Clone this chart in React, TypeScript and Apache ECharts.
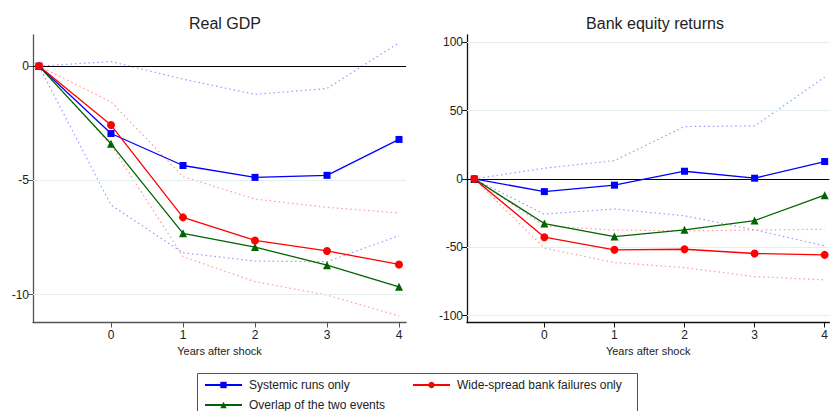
import React, { useEffect, useRef } from "react";
import * as echarts from "echarts";

const years = [-1, 0, 1, 2, 3, 4];
const xTicks = [0, 1, 2, 3, 4];

// Real GDP
const gdpRuns = [0, -2.95, -4.35, -4.87, -4.78, -3.21];
const gdpRunsHi = [0, 0.2, -0.57, -1.24, -0.98, 1.02];
const gdpRunsLo = [0, -6.08, -8.17, -8.53, -8.56, -7.42];
const gdpFail = [0, -2.58, -6.62, -7.63, -8.09, -8.68];
const gdpFailHi = [0, -1.56, -4.84, -5.82, -6.18, -6.43];
const gdpFailLo = [0, -3.45, -8.34, -9.43, -10.02, -10.93];
const gdpBoth = [0, -3.4, -7.32, -7.92, -8.71, -9.66];
const gdpTicks = [-10, -5, 0];

// Bank equity returns
const eqRuns = [0, -9.3, -4.6, 5.6, 0.5, 12.7];
const eqRunsHi = [0, 7.8, 13.4, 38.3, 38.8, 74.4];
const eqRunsLo = [0, -25.8, -22, -27, -37.3, -49];
const eqFail = [0, -42.7, -51.9, -51.5, -54.6, -55.6];
const eqFailHi = [0, -34.4, -37.5, -38, -37.5, -36.8];
const eqFailLo = [0, -50.7, -61.2, -64.9, -71.5, -73.9];
const eqBoth = [0, -32.7, -42.2, -37.3, -30.5, -11.9];
const eqTicks = [-100, -50, 0, 50, 100];

const NAME_RUNS = "Systemic runs only";
const NAME_FAIL = "Wide-spread bank failures only";
const NAME_BOTH = "Overlap of the two events";

const FONT = 'Arial, "Liberation Sans", sans-serif';
const BLUE = "#0000ff";
const RED = "#ff0000";
const GREEN = "#006400";

const pts = (ys: number[]) => years.map((x, i) => [x, ys[i]]);

function mainSeries(name: string, ys: number[], color: string, symbol: string, size: number, idx: number) {
  return {
    type: "line",
    name,
    data: pts(ys),
    xAxisIndex: idx,
    yAxisIndex: idx,
    symbol,
    symbolSize: size,
    showSymbol: true,
    color,
    lineStyle: { color, width: 1.3 },
    itemStyle: { color },
    z: 5,
  };
}

function ciSeries(ys: number[], color: string, idx: number) {
  return {
    type: "line",
    name: "ci",
    data: pts(ys),
    xAxisIndex: idx,
    yAxisIndex: idx,
    symbol: "none",
    lineStyle: { color, width: 1.2, type: [1.5, 3] },
    silent: true,
    z: 3,
  };
}

function refSeries(ticks: number[], idx: number) {
  return {
    type: "line",
    name: "ref",
    data: [],
    xAxisIndex: idx,
    yAxisIndex: idx,
    markLine: {
      silent: true,
      symbol: "none",
      label: { show: false },
      data: ticks.map((t) => ({
        yAxis: t,
        lineStyle: t === 0 ? { color: "#000", width: 1, type: "solid" } : { color: "#e3eef0", width: 1, type: "solid" },
      })),
    },
    z: 1,
  };
}

export default function App() {
  const ref = useRef<HTMLDivElement>(null);
  useEffect(() => {
    if (!ref.current) return;
    const chart = echarts.init(ref.current, undefined, { renderer: "svg" });
    const axisCommonX = (idx: number, min: number, max: number, color: string) => ({
      type: "value",
      gridIndex: idx,
      min,
      max,
      name: "Years after shock",
      nameLocation: "middle",
      nameGap: 17,
      nameTextStyle: { fontFamily: FONT, fontSize: 11, color: "#222" },
      axisLine: { show: true, onZero: false, lineStyle: { color, width: 1.3 } },
      axisTick: { show: true, length: 5, customValues: xTicks, lineStyle: { color } },
      axisLabel: { customValues: xTicks, fontFamily: FONT, fontSize: 12, color: "#222", margin: 6 },
      splitLine: { show: false },
    });
    const axisCommonY = (idx: number, min: number, max: number, ticks: number[], color: string) => ({
      type: "value",
      gridIndex: idx,
      min,
      max,
      axisLine: { show: true, onZero: false, lineStyle: { color, width: 1.3 } },
      axisTick: { show: true, length: 5, customValues: ticks, lineStyle: { color } },
      axisLabel: { customValues: ticks, fontFamily: FONT, fontSize: 12, color: "#222", margin: 4 },
      splitLine: { show: false },
    });
    const legendItem = (name: string, left: number, top: number) => ({
      data: [name],
      left,
      top,
      itemWidth: 37,
      itemHeight: 8,
      itemGap: 0,
      textStyle: { fontFamily: FONT, fontSize: 12, color: "#222", padding: [0, 0, 0, 2] },
      padding: 0,
      selectedMode: false,
    });
    chart.setOption({
      animation: false,
      backgroundColor: "#fff",
      title: [
        { text: "Real GDP", left: 220, top: 10, textAlign: "center", textStyle: { fontFamily: FONT, fontSize: 16, fontWeight: "normal", color: "#222" } },
        { text: "Bank equity returns", left: 650, top: 10, textAlign: "center", textStyle: { fontFamily: FONT, fontSize: 16, fontWeight: "normal", color: "#222" } },
      ],
      grid: [
        { left: 33, right: 425, top: 35, bottom: 88.5 },
        { left: 467, right: 1, top: 35, bottom: 88.5 },
      ],
      xAxis: [axisCommonX(0, -1.083, 4.097, "#555"), axisCommonX(1, -1.104, 4.067, "#111")],
      yAxis: [axisCommonY(0, -11.22, 1.36, gdpTicks, "#555"), axisCommonY(1, -105.1, 105.3, eqTicks, "#111")],
      legend: [
        legendItem(NAME_RUNS, 204, 379),
        legendItem(NAME_FAIL, 412, 379),
        legendItem(NAME_BOTH, 204, 399),
      ],
      graphic: [
        { type: "rect", shape: { x: 197.5, y: 373.5, width: 440, height: 50 }, style: { fill: "none", stroke: "#555", lineWidth: 1 }, silent: true },
      ],
      series: [
        refSeries(gdpTicks, 0),
        ciSeries(gdpRunsHi, "#9999ff", 0),
        ciSeries(gdpRunsLo, "#9999ff", 0),
        ciSeries(gdpFailHi, "#ff9999", 0),
        ciSeries(gdpFailLo, "#ff9999", 0),
        mainSeries(NAME_BOTH, gdpBoth, GREEN, "triangle", 8, 0),
        mainSeries(NAME_RUNS, gdpRuns, BLUE, "rect", 7, 0),
        mainSeries(NAME_FAIL, gdpFail, RED, "circle", 8, 0),
        refSeries(eqTicks, 1),
        ciSeries(eqRunsHi, "#9999ff", 1),
        ciSeries(eqRunsLo, "#9999ff", 1),
        ciSeries(eqFailHi, "#ff9999", 1),
        ciSeries(eqFailLo, "#ff9999", 1),
        mainSeries(NAME_BOTH, eqBoth, GREEN, "triangle", 8, 1),
        mainSeries(NAME_RUNS, eqRuns, BLUE, "rect", 7, 1),
        mainSeries(NAME_FAIL, eqFail, RED, "circle", 8, 1),
      ],
    });
    return () => chart.dispose();
  }, []);
  return <div ref={ref} style={{ width: 831, height: 411, position: "absolute", left: 0, top: 0 }} />;
}
